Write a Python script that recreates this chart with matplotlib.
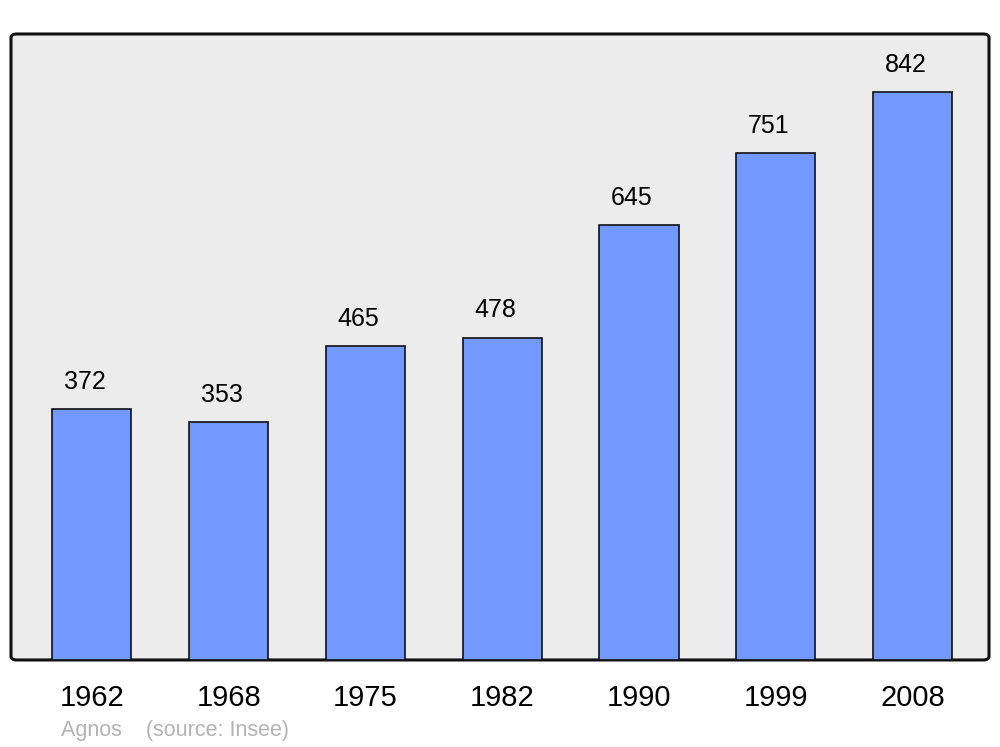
import matplotlib
matplotlib.use('Agg')
import matplotlib.pyplot as plt
from matplotlib.patches import FancyBboxPatch

years = ['1962', '1968', '1975', '1982', '1990', '1999', '2008']
population = [372, 353, 465, 478, 645, 751, 842]

plt.rcParams['font.family'] = ['Liberation Sans', 'DejaVu Sans']

fig = plt.figure(figsize=(10, 7.47), dpi=100)
ax = fig.add_axes([0.011, 0.1165, 0.978, 0.838])
ax.set_facecolor('none')

# rounded frame with grey fill
frame = FancyBboxPatch((0, 0), 1, 1, boxstyle='round,pad=0,rounding_size=0.006',
                       transform=ax.transAxes, facecolor='#ececec', edgecolor='#111111',
                       linewidth=2.2, zorder=0, clip_on=False)
ax.add_patch(frame)
for s in ax.spines.values():
    s.set_visible(False)

x = list(range(len(years)))
ax.bar(x, population, width=0.578, color='#7399ff', edgecolor='#111111',
       linewidth=1.2, zorder=2)
for xi, v in zip(x, population):
    ax.annotate(str(v), (xi, v), xytext=(-5, 11), textcoords='offset points',
                ha='center', va='bottom', fontsize=18)

ax.set_xlim(-0.592, 6.559)
ax.set_ylim(0, 928)
ax.set_yticks([])
ax.set_xticks(x)
ax.set_xticklabels(years, fontsize=21)
ax.tick_params(axis='x', length=0, pad=17)

fig.text(0.061, 0.008, 'Agnos    (source: Insee)', color='#b3b3b3', fontsize=15.5,
         ha='left', va='bottom')

fig.savefig('out.png', dpi=100)
